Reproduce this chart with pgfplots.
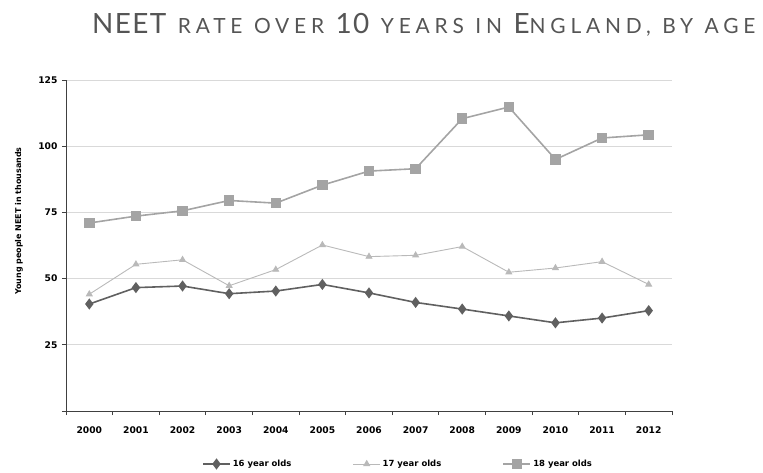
\documentclass[border=0pt]{standalone}
\usepackage{fontspec}
\usepackage{pgfplots}
\pgfplotsset{compat=1.18}

\newfontfamily\titlecaps{Lato}[LetterSpace=5]
\newfontfamily\titlesmall{Lato}[LetterSpace=23]
\newfontfamily\labfont{DejaVu Sans}

\definecolor{c16}{HTML}{606060}
\definecolor{c17}{HTML}{B9B9B9}
\definecolor{c18}{HTML}{A4A4A4}
\definecolor{gridc}{HTML}{D9D9D9}
\definecolor{axisc}{HTML}{404040}
\definecolor{titlec}{HTML}{555555}

% full capitals and small capitals of the title
\newcommand\tbig[1]{{\titlecaps\fontsize{28}{30}\selectfont #1}}
\newcommand\tsc[1]{{\titlesmall\fontsize{21}{24}\selectfont #1}}
\newcommand\ws{\hspace{11.5bp}}

\begin{document}
\begin{tikzpicture}
\path[use as bounding box] (0,0) rectangle (763bp,-473bp);

% chart title
\node[anchor=base west, inner sep=0pt, text=titlec]
  at (92bp,-33bp) {\tbig{NEET}\ws\tsc{RATE}\ws\tsc{OVER}\ws\tbig{10}\ws\tsc{YEARS}\ws\tsc{IN}\ws\tbig{E}\tsc{NGLAND,}\ws\tsc{BY}\ws\tsc{AGE}};

\begin{axis}[
  scale only axis, width=606bp, height=331bp,
  at={(66bp,-411bp)}, anchor=south west,
  xmin=-0.5, xmax=12.5, ymin=0, ymax=125,
  axis x line*=bottom, axis y line*=left,
  axis line style={axisc, line width=0.9bp},
  xtick={0,1,2,3,4,5,6,7,8,9,10,11,12},
  xticklabels={2000,2001,2002,2003,2004,2005,2006,2007,2008,2009,2010,2011,2012},
  major x tick style={draw=none},
  minor xtick={-0.5,0.5,1.5,2.5,3.5,4.5,5.5,6.5,7.5,8.5,9.5,10.5,11.5,12.5},
  minor x tick style={axisc, line width=0.9bp},
  ytick={0,25,50,75,100,125},
  yticklabels={,25,50,75,100,125},
  major y tick style={axisc, line width=0.9bp},
  ymajorgrids, grid style={gridc, line width=0.9bp},
  tick align=outside, major tick length=4bp, minor tick length=4bp,
  /pgf/number format/assume math mode=true,
  tick label style={font=\labfont\bfseries\fontsize{9.2}{11}\selectfont, text=black},
  xticklabel style={yshift=-8bp},
  yticklabel style={xshift=-1bp},
  legend columns=3,
  legend style={at={(0.2195,-0.160)}, anchor=west, draw=none, fill=none,
    font=\labfont\bfseries\fontsize{8.5}{10}\selectfont,
    /tikz/every odd column/.append style={column sep=0pt}},
  legend image code/.code={
    \draw[mark repeat=2, mark phase=2] plot coordinates {(0bp,0bp)(13.5bp,0bp)(27bp,0bp)};},
  clip=false,
]
\addplot[c16, line width=1.6bp, mark=diamond*, mark size=4.3bp,
  mark options={solid, fill=c16, draw=c16}]
  coordinates {(0,40.4)(1,46.6)(2,47.2)(3,44.3)(4,45.3)(5,47.8)(6,44.6)
               (7,41.0)(8,38.5)(9,35.9)(10,33.3)(11,35.1)(12,37.9)};
\addlegendentry{\makebox[118bp][l]{16 year olds}}

\addplot[c17, line width=0.9bp, mark=triangle*, mark size=3.3bp,
  mark options={solid, fill=c17, draw=c17}]
  coordinates {(0,44.1)(1,55.4)(2,57.1)(3,47.3)(4,53.4)(5,62.7)(6,58.3)
               (7,58.8)(8,62.1)(9,52.4)(10,54.0)(11,56.4)(12,47.8)};
\addlegendentry{\makebox[118bp][l]{17 year olds}}

\addplot[c18, line width=1.6bp, mark=square*, mark size=4.4bp,
  mark options={solid, fill=c18, draw=c18}]
  coordinates {(0,71.0)(1,73.6)(2,75.6)(3,79.5)(4,78.5)(5,85.3)(6,90.6)
               (7,91.5)(8,110.4)(9,114.8)(10,95.0)(11,103.1)(12,104.3)};
\addlegendentry{18 year olds}
\end{axis}

% vertical axis title
\node[rotate=90, text=black, font=\labfont\bfseries\fontsize{8}{10}\selectfont]
  at (19bp,-221bp) {Young people NEET in thousands};
\end{tikzpicture}
\end{document}
